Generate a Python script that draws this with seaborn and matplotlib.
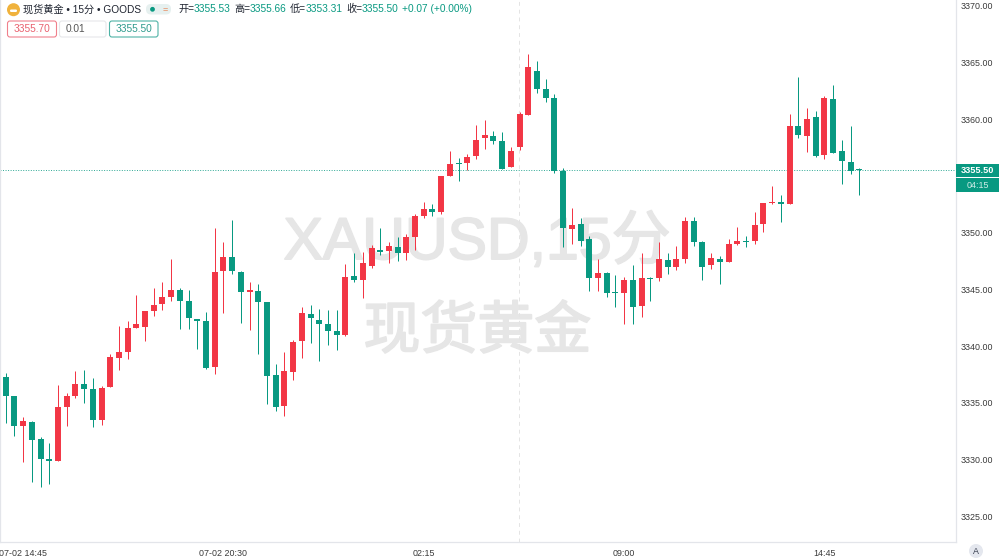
import numpy as np
import pandas as pd
import matplotlib
matplotlib.use("Agg")
import matplotlib.pyplot as plt
import matplotlib.patheffects as pe
from matplotlib.patches import FancyBboxPatch, Rectangle, Circle
import seaborn as sns

opens = [3337.26,3335.62,3333.01,3333.36,3331.83,3330.07,3329.87,3334.65,3335.65,3336.67,
3336.23,3333.50,3336.38,3338.99,3339.49,3341.60,3341.69,3343.07,3343.72,3344.33,
3344.95,3343.95,3342.39,3342.22,3338.17,3346.59,3347.88,3346.56,3344.74,3344.89,
3343.92,3337.46,3334.76,3337.76,3340.46,3342.86,3342.30,3341.92,3341.31,3340.98,
3346.15,3345.85,3347.09,3348.44,3348.38,3348.73,3348.23,3349.58,3351.46,3352.08,
3351.78,3354.95,3356.12,3356.10,3356.77,3358.30,3358.50,3358.06,3355.77,3357.53,
3360.38,3364.19,3362.64,3361.84,3355.42,3350.31,3350.75,3349.43,3346.00,3346.44,
3344.77,3344.68,3345.82,3343.53,3346.00,3346.00,3347.55,3346.97,3347.67,3350.99,
3349.17,3347.17,3347.67,3347.44,3348.96,3349.23,3349.26,3350.78,3352.63,3352.69,
3352.54,3359.38,3358.47,3360.17,3356.80,3361.76,3357.18,3356.24,3355.53]
closes = [3335.65,3333.01,3333.42,3331.77,3330.04,3329.87,3334.68,3335.62,3336.70,3336.23,
3333.50,3336.35,3339.05,3339.49,3341.60,3341.93,3343.10,3343.63,3344.30,3344.95,
3343.98,3342.45,3342.25,3338.08,3346.53,3347.88,3346.59,3344.74,3344.95,3343.92,
3337.40,3334.67,3337.81,3340.40,3342.92,3342.45,3341.98,3341.34,3340.98,3346.09,
3345.83,3347.32,3348.64,3348.32,3348.82,3348.23,3349.61,3351.46,3352.08,3351.78,
3354.95,3356.04,3356.04,3356.65,3358.12,3358.59,3358.09,3355.62,3357.15,3360.44,
3364.57,3362.67,3361.82,3355.45,3350.43,3350.67,3349.29,3346.03,3346.44,3344.68,
3344.68,3345.82,3343.45,3345.97,3345.94,3347.64,3346.97,3347.67,3350.99,3349.17,
3347.00,3347.73,3347.41,3348.96,3349.23,3349.14,3350.67,3352.60,3352.69,3352.54,
3359.38,3358.62,3360.00,3356.74,3361.82,3357.03,3356.33,3355.45,3355.50]
highs = [3337.67,3335.65,3333.74,3333.42,3331.98,3331.45,3336.56,3335.85,3337.82,3337.91,
3337.17,3336.53,3339.28,3341.75,3342.22,3344.51,3343.10,3345.12,3345.65,3347.65,
3345.12,3344.92,3342.39,3343.04,3350.41,3349.20,3351.11,3346.59,3345.68,3345.47,
3343.92,3338.40,3339.49,3340.54,3343.48,3343.62,3343.24,3343.18,3343.18,3347.20,
3348.17,3348.26,3348.91,3350.40,3349.20,3349.58,3349.87,3351.64,3352.66,3352.52,
3355.01,3357.21,3356.59,3356.92,3359.44,3359.94,3358.97,3358.82,3357.50,3360.58,
3365.72,3365.10,3363.49,3362.17,3355.65,3352.16,3351.25,3349.70,3347.70,3346.50,
3346.23,3346.06,3347.14,3348.17,3346.12,3349.20,3348.17,3348.85,3351.40,3351.40,
3349.23,3348.17,3347.94,3349.40,3350.52,3349.73,3351.78,3352.63,3354.10,3353.28,
3360.41,3363.66,3360.99,3360.70,3362.02,3362.99,3358.15,3359.38,3355.66]
lows = [3333.21,3332.12,3329.81,3328.08,3327.58,3327.90,3329.87,3333.01,3335.41,3335.03,
3332.92,3333.06,3336.38,3337.91,3338.90,3341.60,3340.49,3342.69,3343.22,3344.01,
3341.51,3341.51,3339.75,3337.96,3337.58,3342.95,3346.33,3342.07,3341.46,3339.28,
3334.91,3334.32,3333.88,3337.02,3338.93,3340.25,3338.72,3340.10,3339.66,3340.92,
3345.62,3344.21,3346.85,3348.03,3347.35,3347.50,3347.62,3348.47,3351.31,3351.46,
3351.64,3354.95,3354.57,3355.48,3356.51,3357.33,3357.80,3355.59,3355.77,3357.27,
3360.38,3362.26,3361.52,3355.27,3348.76,3348.99,3348.85,3344.88,3344.88,3344.36,
3343.45,3341.92,3341.92,3342.60,3343.97,3345.76,3346.32,3346.73,3347.35,3348.85,
3345.82,3346.79,3345.47,3347.41,3348.93,3348.76,3348.96,3350.05,3352.54,3350.93,
3352.48,3358.29,3357.06,3356.68,3356.50,3357.00,3354.30,3355.13,3353.31]
price_ticks = [3370, 3365, 3360, 3355, 3350, 3345, 3340, 3335, 3330, 3325]
shown_prices = [p for p in price_ticks if p != 3355]
time_labels = ["07-02 14:45", "07-02 20:30", "02:15", "09:00", "14:45"]
time_bars = [2, 25, 48, 71, 94]
last_price = 3355.50
cross_bar = 58.9

RED, GREEN = "#F23645", "#089981"
sns.set_theme(style="white")
plt.rcParams["font.family"] = ["Liberation Sans", "Noto Sans CJK SC", "DejaVu Sans"]

n = len(opens)
idx = np.arange(n)
direction = np.where(np.array(closes) >= np.array(opens), "up", "down")
palette = {"up": RED, "down": GREEN}

wicks = pd.DataFrame({"i": np.r_[idx, idx], "price": highs + lows, "dir": np.r_[direction, direction]})
o, c = np.array(opens), np.array(closes)
mid = (o + c) / 2
half = np.maximum(np.abs(o - c), 0.09) / 2
bodies = pd.DataFrame({"i": np.r_[idx, idx], "price": np.r_[mid + half, mid - half], "dir": np.r_[direction, direction]})

W, H = 999, 560
fig = plt.figure(figsize=(W / 100, H / 100), dpi=100, facecolor="white")
ax = fig.add_axes([0, 1 - 542 / H, 955.7 / W, 542 / H])
ax.set_facecolor("none")

bg = fig.add_axes([0, 0, 1, 1], zorder=-1)
bg.set_xlim(0, W); bg.set_ylim(H, 0); bg.axis("off")
thick = [pe.withStroke(linewidth=1.3, foreground="#E6E6E6")]
bg.text(477, 243, "XAUUSD,15分", fontsize=42.5, color="#E6E6E6", ha="center", va="center", path_effects=thick)
bg.text(477.5, 332, "现货黄金", fontsize=41, color="#E6E6E6", ha="center", va="center",
        family=["Noto Sans CJK SC", "DejaVu Sans"], path_effects=thick)

sns.lineplot(data=wicks, x="i", y="price", hue="dir", units="i", estimator=None, palette=palette,
             linewidth=0.72, sort=False, legend=False, ax=ax, solid_capstyle="butt")
sns.lineplot(data=bodies, x="i", y="price", hue="dir", units="i", estimator=None, palette=palette,
             linewidth=4.3, sort=False, legend=False, ax=ax, solid_capstyle="butt")

ax.set_xlim(-0.654, 109.07)
ax.set_ylim(3322.76, 3370.48)
ax.axhline(last_price, color=GREEN, lw=0.7, ls=(0, (1, 1.6)), alpha=0.85, zorder=1)
ax.axvline(cross_bar, color="#E4E4E4", lw=0.7, ls=(0, (4, 4)), zorder=1)
ax.yaxis.tick_right()
ax.set_yticks(shown_prices)
ax.set_yticklabels([f"{p:.2f}" for p in shown_prices], fontsize=6.4, color="#3A3A3A")
ax.set_xticks(time_bars)
ax.set_xticklabels(time_labels, fontsize=6.4, color="#3A3A3A")
ax.tick_params(axis="both", length=0)
ax.tick_params(axis="y", pad=3.2)
ax.tick_params(axis="x", pad=5)
ax.set_xlabel(""); ax.set_ylabel("")
ax.spines["top"].set_visible(False)
for s in ["left", "right", "bottom"]:
    ax.spines[s].set_visible(True)
    ax.spines[s].set_color("#E3E5EA")
    ax.spines[s].set_linewidth(0.9)

ov = fig.add_axes([0, 0, 1, 1], zorder=5)
ov.set_xlim(0, W); ov.set_ylim(H, 0); ov.axis("off"); ov.patch.set_alpha(0)

ov.add_patch(Circle((13.5, 9.7), 6.5, color="#F0B23C", lw=0))
ov.add_patch(FancyBboxPatch((10, 9.5), 7, 2.5, boxstyle="round,pad=0,rounding_size=1.2", fc="white", lw=0))
TXT = "#1F2430"
ov.text(23, 9.3, "现货黄金 • 15分 • GOODS", fontsize=7.3, color=TXT, va="center")
ov.add_patch(FancyBboxPatch((146, 4), 25, 10.5, boxstyle="round,pad=0,rounding_size=5", fc="#E6F0EF", lw=0))
ov.add_patch(Circle((152.5, 9.3), 2.4, color=GREEN, lw=0))
ov.text(165, 9.3, "=", fontsize=6.5, color="#E8875A", ha="center", va="center")
segments = [(178, "开=", "3355.53"), (234, "高=", "3355.66"), (290, "低=", "3353.31"), (346, "收=", "3355.50")]
for x, lab, val in segments:
    ov.text(x, 9.3, lab, fontsize=7.3, color=TXT, va="center")
    ov.text(x + 15.5, 9.3, val, fontsize=7.3, color=GREEN, va="center")
ov.text(402, 9.3, "+0.07 (+0.00%)", fontsize=7.3, color=GREEN, va="center")

for x, w, ec, col, label in [(7.5, 49, "#F0808C", "#E9606E", "3355.70"),
                             (59.5, 46.5, "#E6E7EA", "#555555", "0.01"),
                             (109.5, 48.5, "#4FB3A6", "#2F9B8D", "3355.50")]:
    ov.add_patch(FancyBboxPatch((x, 21), w, 16, boxstyle="round,pad=0,rounding_size=2.5",
                                fc="white", ec=ec, lw=0.8))
    ov.text(x + 6, 29.3, label, fontsize=7.3, color=col, va="center")

ov.add_patch(Rectangle((956, 164), 43, 13, fc=GREEN, lw=0))
ov.add_patch(Rectangle((956, 177.5), 43, 14, fc=GREEN, lw=0))
ov.text(977.5, 170.8, f"{last_price:.2f}", fontsize=6.6, color="white", weight="bold", ha="center", va="center")
ov.text(977.5, 185, "04:15", fontsize=6.4, color="#CFEDE8", ha="center", va="center")

ov.add_patch(Circle((976, 551), 7, color="#E4E7EE", lw=0))
ov.text(976, 551.3, "A", fontsize=6.4, color="#3A4050", ha="center", va="center")

fig.savefig("out.png", dpi=100)
